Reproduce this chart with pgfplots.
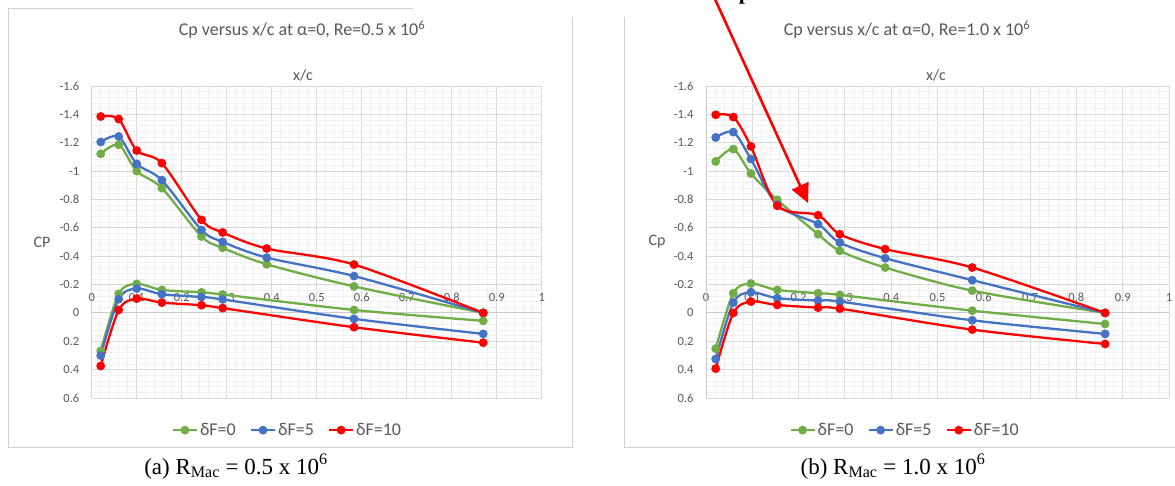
\documentclass[border=0pt]{standalone}
\usepackage{pgfplots}
\pgfplotsset{compat=1.18}
\usepackage{fontspec}
\setmainfont{Carlito}
\newfontfamily\tnr{Liberation Serif}
\usetikzlibrary{arrows.meta}
\definecolor{txt}{HTML}{595959}
\definecolor{cg}{HTML}{70AD47}
\definecolor{cb}{HTML}{4472C4}
\definecolor{cr}{HTML}{FF0000}
\definecolor{gmaj}{HTML}{D9D9D9}
\definecolor{gmin}{HTML}{F0F0F0}
\definecolor{boxc}{HTML}{D0D0D0}

\pgfplotsset{cpaxis/.style={
  scale only axis, height=312pt,
  xmin=0, xmax=1, ymin=-1.6, ymax=0.6, y dir=reverse,
  xtick={0,0.1,0.2,0.3,0.4,0.5,0.6,0.7,0.8,0.9,1},
  xticklabels={0,0.1,0.2,0.3,0.4,0.5,0.6,0.7,0.8,0.9,1},
  ytick={-1.6,-1.4,-1.2,-1,-0.8,-0.6,-0.4,-0.2,0,0.2,0.4,0.6},
  yticklabels={-1.6,-1.4,-1.2,-1,-0.8,-0.6,-0.4,-0.2,0,0.2,0.4,0.6},
  minor x tick num=4, minor y tick num=4,
  grid=both,
  major grid style={draw=gmaj, line width=0.9pt},
  minor grid style={draw=gmin, line width=0.7pt},
  axis line style={draw=none},
  major tick length=0pt, minor tick length=0pt,
  tick label style={font=\fontsize{12.5}{14}\selectfont, text=txt},
  xticklabel style={anchor=center, yshift=101pt},
  yticklabel style={xshift=-9pt},
  legend columns=3,
  legend style={draw=none, fill=none, font=\fontsize{18}{20}\selectfont, text=txt,
    /tikz/every even column/.append style={column sep=12pt}},
  legend image code/.code={\draw[mark repeat=2,mark phase=2,##1] plot coordinates {(0pt,0pt) (12pt,0pt) (24pt,0pt)};},
  every axis plot/.append style={smooth, tension=0.5, line width=2.3pt, mark=*, mark size=3.2pt, mark options={solid, line width=0.4pt}},
}}

\begin{document}
\begin{tikzpicture}[x=1pt,y=1pt]
\useasboundingbox (0,0) rectangle (1175,485);
% chart frames
\draw[boxc, line width=0.9pt] (413,477) -- (8,477) -- (8,38) -- (572,38) -- (572,468);
\draw[boxc, line width=0.9pt] (624,468) -- (624,38) -- (1180,38);

% ---------- left chart ----------
\begin{axis}[cpaxis, width=450pt, at={(91.7pt,87pt)}, anchor=south west,
  legend style={at={(axis description cs:0.435,-0.103)}, anchor=center}]
\draw[gmaj!140, line width=1pt] (axis cs:0,0) -- (axis cs:1,0);
\draw[gmaj!140, line width=1pt] (axis cs:0,-1.6) -- (axis cs:0,0.6);
\addplot[cg, mark options={fill=cg}] coordinates {(0.02,-1.122)(0.06,-1.186)(0.1,-1.0)(0.156,-0.88)(0.244,-0.539)(0.291,-0.459)(0.389,-0.343)(0.583,-0.187)(0.87,0.0)};
\addlegendentry{δF=0}
\addplot[cb, mark options={fill=cb}] coordinates {(0.02,-1.205)(0.06,-1.244)(0.1,-1.051)(0.156,-0.936)(0.244,-0.585)(0.291,-0.501)(0.389,-0.39)(0.583,-0.26)(0.87,0.0)};
\addlegendentry{δF=5}
\addplot[cr, mark options={fill=cr}] coordinates {(0.02,-1.385)(0.06,-1.367)(0.1,-1.145)(0.156,-1.056)(0.244,-0.656)(0.291,-0.567)(0.389,-0.454)(0.583,-0.341)(0.87,0.0)};
\addlegendentry{δF=10}
\addplot[cg, mark options={fill=cg}, forget plot] coordinates {(0.02,0.268)(0.06,-0.134)(0.1,-0.205)(0.156,-0.162)(0.244,-0.145)(0.291,-0.13)(0.583,-0.021)(0.87,0.056)};
\addplot[cb, mark options={fill=cb}, forget plot] coordinates {(0.02,0.301)(0.06,-0.097)(0.1,-0.172)(0.156,-0.132)(0.244,-0.112)(0.291,-0.095)(0.583,0.042)(0.87,0.148)};
\addplot[cr, mark options={fill=cr}, forget plot] coordinates {(0.02,0.374)(0.06,-0.021)(0.1,-0.101)(0.156,-0.073)(0.244,-0.054)(0.291,-0.034)(0.583,0.101)(0.87,0.21)};
\end{axis}

% ---------- right chart ----------
\begin{axis}[cpaxis, width=463pt, at={(706pt,87pt)}, anchor=south west,
  legend style={at={(axis description cs:0.43,-0.103)}, anchor=center}]
\draw[gmaj!140, line width=1pt] (axis cs:0,0) -- (axis cs:1,0);
\draw[gmaj!140, line width=1pt] (axis cs:0,-1.6) -- (axis cs:0,0.6);
\addplot[cg, mark options={fill=cg}] coordinates {(0.021,-1.068)(0.059,-1.155)(0.097,-0.983)(0.154,-0.797)(0.242,-0.555)(0.289,-0.438)(0.387,-0.32)(0.575,-0.157)(0.862,0.0)};
\addlegendentry{δF=0}
\addplot[cb, mark options={fill=cb}] coordinates {(0.021,-1.237)(0.059,-1.275)(0.097,-1.085)(0.154,-0.762)(0.242,-0.626)(0.289,-0.496)(0.387,-0.386)(0.575,-0.231)(0.862,0.0)};
\addlegendentry{δF=5}
\addplot[cr, mark options={fill=cr}] coordinates {(0.021,-1.397)(0.059,-1.381)(0.097,-1.174)(0.154,-0.755)(0.242,-0.689)(0.289,-0.555)(0.387,-0.45)(0.575,-0.32)(0.862,0.0)};
\addlegendentry{δF=10}
\addplot[cg, mark options={fill=cg}, forget plot] coordinates {(0.021,0.252)(0.059,-0.139)(0.097,-0.207)(0.154,-0.162)(0.242,-0.139)(0.289,-0.127)(0.575,-0.016)(0.862,0.078)};
\addplot[cb, mark options={fill=cb}, forget plot] coordinates {(0.021,0.325)(0.059,-0.073)(0.097,-0.146)(0.154,-0.104)(0.242,-0.087)(0.289,-0.08)(0.575,0.052)(0.862,0.148)};
\addplot[cr, mark options={fill=cr}, forget plot] coordinates {(0.021,0.393)(0.059,0.0)(0.097,-0.08)(0.154,-0.056)(0.242,-0.037)(0.289,-0.03)(0.575,0.118)(0.862,0.219)};
\end{axis}

% ---------- texts ----------
\node[text=txt, font=\fontsize{18}{20}\selectfont] at (302,455) {Cp versus x/c at α=0, Re=0.5 x 10\textsuperscript{6}};
\node[text=txt, font=\fontsize{18}{20}\selectfont] at (907,455) {Cp versus x/c at α=0, Re=1.0 x 10\textsuperscript{6}};
\node[text=txt, font=\fontsize{16}{18}\selectfont] at (303,410) {x/c};
\node[text=txt, font=\fontsize{16}{18}\selectfont] at (936,410) {x/c};
\node[text=txt, font=\fontsize{16}{18}\selectfont] at (42,243) {CP};
\node[text=txt, font=\fontsize{16}{18}\selectfont] at (657,243) {Cp};
\node[anchor=base, font=\tnr\fontsize{23}{25}\selectfont] at (236,11) {(a) R\textsubscript{Mac} = 0.5 x 10\textsuperscript{6}};
\node[anchor=base, font=\tnr\fontsize{23}{25}\selectfont] at (893,11) {(b) R\textsubscript{Mac} = 1.0 x 10\textsuperscript{6}};
\node[anchor=base, font=\tnr\bfseries\fontsize{22}{24}\selectfont] at (745,485) {p};
% arrow
\draw[cr, line width=2.6pt, -{Triangle[length=19pt,width=18pt]}] (714,488) -- (808,282);
\end{tikzpicture}
\end{document}
